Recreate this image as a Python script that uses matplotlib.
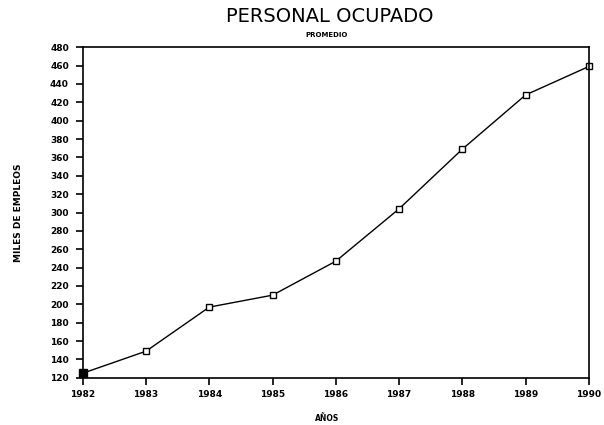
import matplotlib
matplotlib.use("Agg")
import matplotlib.pyplot as plt
import numpy as np

years = [1982, 1983, 1984, 1985, 1986, 1987, 1988, 1989, 1990]
empleos = [125, 149, 197, 210, 247, 304, 369, 428, 459]
yticks = list(range(120, 481, 20))


def main():
    fig = plt.figure(figsize=(6.04, 4.25), dpi=100)
    ax = fig.add_axes([0.137, 0.111, 0.838, 0.778])

    ax.plot(years, empleos, color='black', lw=1.0, marker='s', ms=5,
            mfc='white', mec='black', mew=1.0, clip_on=False)
    ax.plot(years[:1], empleos[:1], 's', color='black', ms=6, clip_on=False)

    ax.set_xlim(1982, 1990)
    ax.set_ylim(120, 480)
    ax.set_xticks(years)
    ax.set_yticks(yticks)
    ax.tick_params(direction='out', length=5, width=1.2, labelsize=6.5)
    ax.tick_params(axis='x', pad=4)
    ax.tick_params(axis='y', pad=5)
    for lab in ax.get_xticklabels() + ax.get_yticklabels():
        lab.set_fontweight('bold')
    for s in ax.spines.values():
        s.set_linewidth(1.2)

    fig.text(0.546, 0.962, 'PERSONAL OCUPADO', ha='center', va='center',
             fontsize=14, fontweight='normal', color='black')
    fig.text(0.541, 0.918, 'PROMEDIO', ha='center', va='center',
             fontsize=5, fontweight='bold')
    fig.text(0.541, 0.016, 'AÑOS', ha='center', va='center',
             fontsize=5.5, fontweight='bold')
    fig.text(0.03, 0.5, 'MILES DE EMPLEOS', ha='center', va='center',
             rotation=90, fontsize=6.5, fontweight='bold')

    fig.savefig('out.png', dpi=100)


if __name__ == '__main__':
    main()
